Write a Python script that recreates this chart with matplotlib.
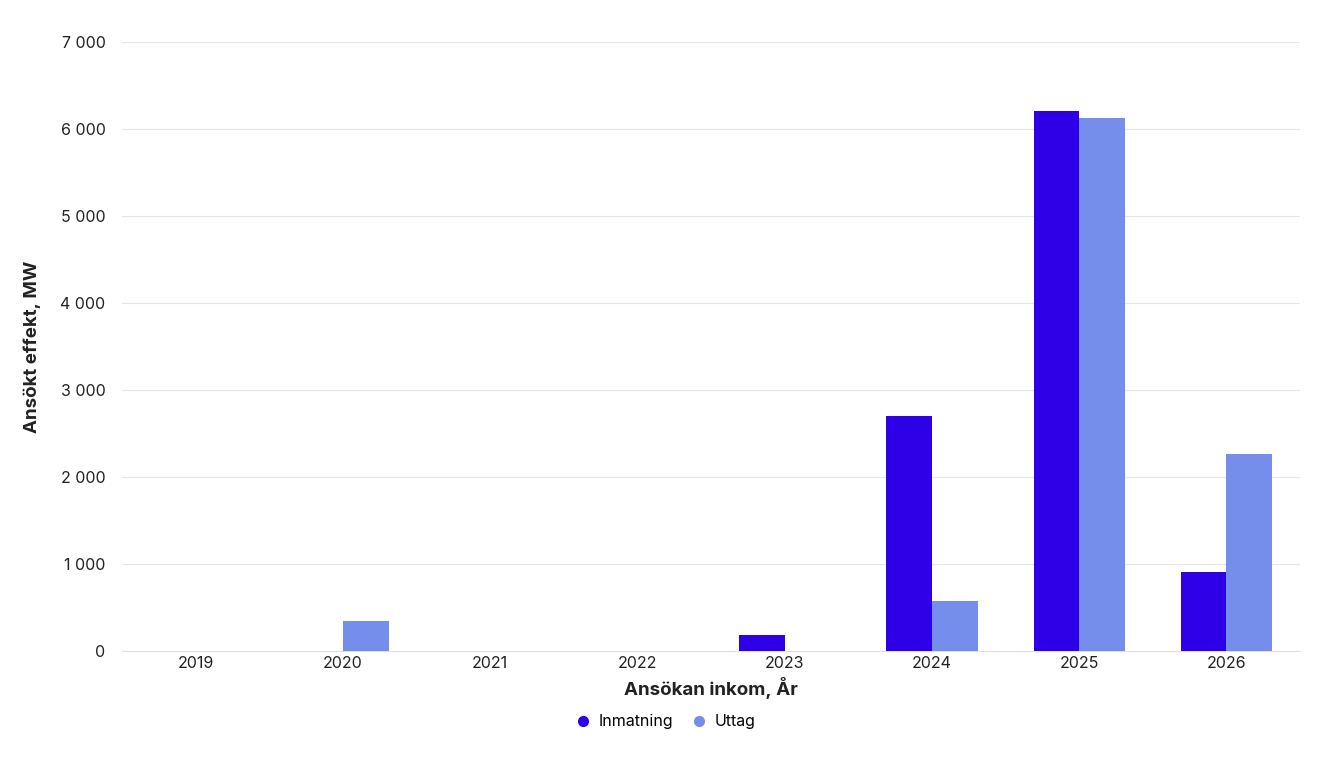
import matplotlib
matplotlib.use("Agg")
import matplotlib.pyplot as plt
from matplotlib.ticker import FuncFormatter
import numpy as np

years = ["2019", "2020", "2021", "2022", "2023", "2024", "2025", "2026"]
inmatning = [0, 0, 0, 0, 184, 2700, 6207, 908]
uttag = [0, 345, 0, 0, 0, 575, 6126, 2264]

plt.rcParams['font.family'] = ['Inter', 'DejaVu Sans']
fig = plt.figure(figsize=(13.28, 7.68), dpi=100)
ax = fig.add_axes([0.092, 0.152, 0.887, 0.793])
x = np.arange(len(years))
w = 0.31
ax.bar(x - w/2, inmatning, w, color="#2D00E8", label="Inmatning", zorder=3)
ax.bar(x + w/2, uttag, w, color="#758EEB", label="Uttag", zorder=3)
ax.set_xlim(-0.5, len(years) - 0.5)
ax.set_ylim(0, 7000)
ax.set_yticks(range(0, 7001, 1000))
ax.yaxis.set_major_formatter(FuncFormatter(lambda v, p: f"{int(v):,}".replace(",", " ")))
ax.set_xticks(x)
ax.set_xticklabels(years)
ax.grid(axis="y", color="#e6e6e6", linewidth=0.8, zorder=0)
for s in ["top", "right", "left"]:
    ax.spines[s].set_visible(False)
ax.spines["bottom"].set_color("#e0e0e0")
ax.tick_params(length=0, labelsize=11.5, colors="#222222")
ax.tick_params(axis="y", pad=12)
ax.set_xlabel("Ansökan inkom, År", fontsize=13.5, fontweight="bold", color="#222222", labelpad=4)
ax.set_ylabel("Ansökt effekt, MW", fontsize=13.5, fontweight="bold", color="#222222", labelpad=14)
from matplotlib.lines import Line2D
handles = [Line2D([], [], marker="o", linestyle="", color="#2D00E8", markersize=7),
           Line2D([], [], marker="o", linestyle="", color="#758EEB", markersize=7)]
fig.legend(handles, ["Inmatning", "Uttag"], loc="center", bbox_to_anchor=(0.498, 0.06),
           ncol=2, frameon=False, fontsize=11.5, handletextpad=0.0, columnspacing=0.6)
fig.savefig("out.png", dpi=100)
